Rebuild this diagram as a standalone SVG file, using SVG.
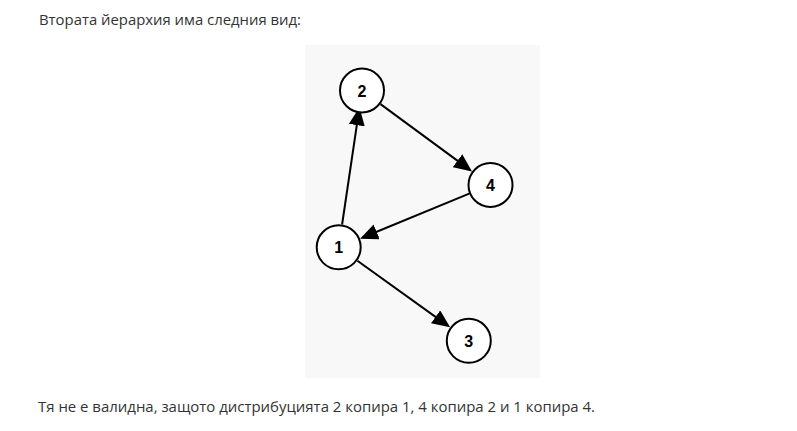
<svg xmlns="http://www.w3.org/2000/svg" width="797" height="431" viewBox="0 0 797 431">
  <defs>
    <style>
      .txt { font-family: "Open Sans", "Noto Sans", sans-serif; font-size: 14.8px; fill: #333; }
      .node circle { fill: #fff; stroke: #000; stroke-width: 2; }
      .node text { font-family: "Liberation Sans", Arial, sans-serif; font-weight: bold; font-size: 16px; fill: #000; text-anchor: middle; }
      .edge { stroke: #000; stroke-width: 2; fill: none; marker-end: url(#arrow); }
    </style>
    <marker id="arrow" markerUnits="userSpaceOnUse" markerWidth="19" markerHeight="16" refX="15" refY="8" orient="auto">
      <path d="M0,0 L18,8 L0,16 z" fill="#000"/>
    </marker>
  </defs>
  <rect width="797" height="431" fill="#fff"/>
  <text class="txt" x="39" y="25" textLength="262" lengthAdjust="spacingAndGlyphs">Втората йерархия има следния вид:</text>
  <rect x="305" y="45" width="235" height="333" fill="#f8f8f8"/>
  <g id="connectors">
    <path class="edge" d="M342.1,224.5 L359.0,110.3"/>
    <path class="edge" d="M380.5,104.1 L469.6,169.6"/>
    <path class="edge" d="M469.2,193.7 L362.8,237.5"/>
    <path class="edge" d="M357.4,260.7 L447.7,325.6"/>
  </g>
  <g id="node2" class="node"><circle cx="362" cy="90.5" r="22"/><text x="362" y="96.5">2</text></g>
  <g id="node4" class="node"><circle cx="490.5" cy="185" r="22"/><text x="490.5" y="191">4</text></g>
  <g id="node1" class="node"><circle cx="338.7" cy="247.3" r="22"/><text x="338.7" y="253.3">1</text></g>
  <g id="node3" class="node"><circle cx="468.8" cy="340.8" r="22"/><text x="468.8" y="346.8">3</text></g>
  <text class="txt" x="38" y="412" textLength="557" lengthAdjust="spacingAndGlyphs">Тя не е валидна, защото дистрибуцията 2 копира 1, 4 копира 2 и 1 копира 4.</text>
</svg>
